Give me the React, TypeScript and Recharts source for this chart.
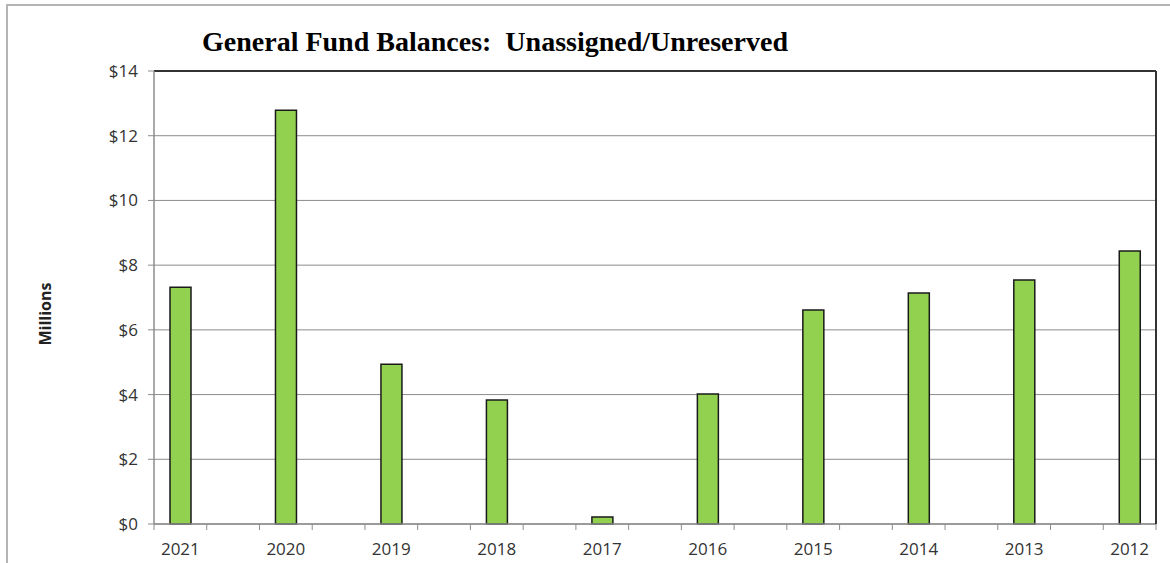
import { BarChart, Bar, XAxis, YAxis, CartesianGrid, ReferenceLine } from "recharts"

const years = ["2021", "2020", "2019", "2018", "2017", "2016", "2015", "2014", "2013", "2012"]
const balances = [7.32, 12.79, 4.94, 3.83, 0.22, 4.02, 6.61, 7.14, 7.54, 8.44]
const yTicks = [0, 2, 4, 6, 8, 10, 12, 14]

const W = 1170
const H = 563
const TOP = 71
const LEFT = 154
const RIGHT = 13
const XAXIS_H = 39
const PLOT_W = W - LEFT - RIGHT - 1
const PLOT_BOTTOM = H - XAXIS_H

// Excel-style spacing: an empty slot between each year
const chartData = years.flatMap((year, i) =>
  i < years.length - 1
    ? [{ label: year, value: balances[i] }, { label: "", value: null }]
    : [{ label: year, value: balances[i] }]
)

const band = PLOT_W / chartData.length
const FONT = "'Open Sans', sans-serif"
const GRID = "#8c8c8c"

const XTick = (props: any) => {
  const { x, payload, index } = props
  return (
    <g>
      <line x1={x - band / 2} x2={x - band / 2} y1={PLOT_BOTTOM} y2={PLOT_BOTTOM + 6} stroke={GRID} />
      {index === chartData.length - 1 && (
        <line x1={x + band / 2} x2={x + band / 2} y1={PLOT_BOTTOM} y2={PLOT_BOTTOM + 6} stroke={GRID} />
      )}
      <text x={x} y={PLOT_BOTTOM + 19} dy="0.71em" textAnchor="middle" fill="#333" fontSize={17} fontFamily={FONT}>
        {payload.value}
      </text>
    </g>
  )
}

const MillionsLabel = () => (
  <text
    x={45}
    y={314}
    transform="rotate(-90, 45, 314)"
    textAnchor="middle"
    dominantBaseline="central"
    fontSize={16}
    fontWeight="bold"
    fontFamily={FONT}
    fill="#222"
  >
    Millions
  </text>
)

export default function App() {
  return (
    <div style={{ position: "absolute", left: 0, top: 0, width: W, height: H, overflow: "hidden", background: "#fff" }}>
      <div
        style={{
          position: "absolute",
          left: 6,
          top: 4,
          width: W + 20,
          height: H + 20,
          border: "2px solid #b4b4b4",
        }}
      />
      <div
        style={{
          position: "absolute",
          left: 0,
          width: 990,
          top: 28,
          textAlign: "center",
          fontFamily: "'Liberation Serif', 'Times New Roman', serif",
          fontWeight: "bold",
          fontSize: 28,
          lineHeight: "28px",
          whiteSpace: "pre",
          color: "#000",
        }}
      >
        {"General Fund Balances:  Unassigned/Unreserved"}
      </div>
      <div style={{ position: "absolute", left: 0, top: 0 }}>
        <BarChart
          width={W}
          height={H}
          data={chartData}
          margin={{ top: TOP, right: RIGHT, left: 0, bottom: 0 }}
          barSize={21}
        >
          <CartesianGrid vertical={false} stroke={GRID} strokeWidth={1} />
          <XAxis
            dataKey="label"
            height={XAXIS_H}
            interval={0}
            tickLine={false}
            axisLine={{ stroke: GRID, strokeWidth: 1.5 }}
            tick={<XTick />}
          />
          <YAxis
            width={LEFT}
            domain={[0, 14]}
            ticks={yTicks}
            tickFormatter={(v) => `$${v}`}
            tickSize={6}
            tickMargin={10}
            tickLine={{ stroke: GRID }}
            axisLine={{ stroke: GRID, strokeWidth: 1.5 }}
            tick={{ fill: "#333", fontSize: 17, fontFamily: FONT }}
            label={<MillionsLabel />}
          />
          <YAxis
            yAxisId="frame"
            orientation="right"
            width={1}
            domain={[0, 14]}
            ticks={[0, 14]}
            tick={false}
            tickLine={false}
            axisLine={{ stroke: "#333", strokeWidth: 2 }}
          />
          <ReferenceLine y={14} stroke="#333" strokeWidth={2} />
          <Bar dataKey="value" fill="#92d050" stroke="#1a1a1a" strokeWidth={1.5} isAnimationActive={false} />
        </BarChart>
      </div>
    </div>
  )
}
